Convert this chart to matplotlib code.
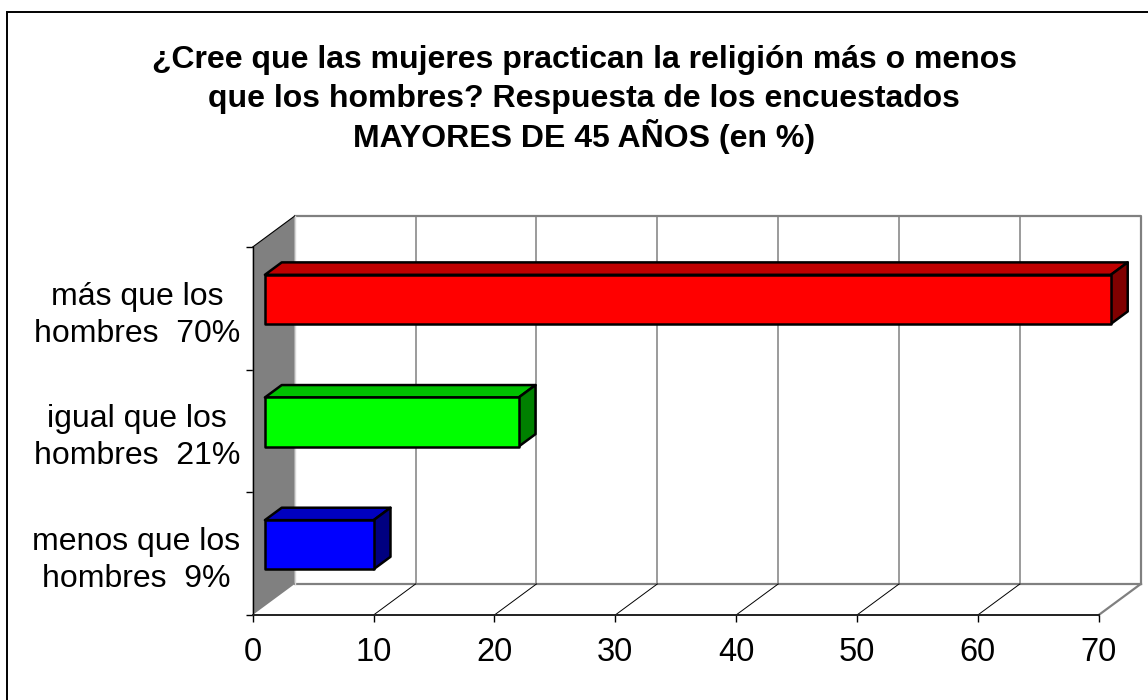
import matplotlib.pyplot as plt
from matplotlib.patches import Polygon, Rectangle

plt.rcParams['font.family'] = ['Liberation Sans', 'DejaVu Sans']

# answers, bottom to top
categories = ['menos que los\nhombres  9%',
              'igual que los\nhombres  21%',
              'más que los\nhombres  70%']
values = [9, 21, 70]
front_colors = ['#0000FF', '#00FF00', '#FF0000']
top_colors = ['#0000C0', '#00C000', '#C00000']
side_colors = ['#000080', '#008000', '#800000']

title_lines = ['¿Cree que las mujeres practican la religión más o menos',
               'que los hombres? Respuesta de los encuestados',
               'MAYORES DE 45 AÑOS (en %)']
xticks = [0, 10, 20, 30, 40, 50, 60, 70]

# pseudo 3d depth of the plot box (data units) and where the bars sit in it
DX, DY = 3.48, 0.253
BAR_FRONT, BAR_BACK = 0.29, 0.69
BAR_H = 0.4
GREY = '#808080'

fig = plt.figure(figsize=(11.48, 7.0), dpi=100)
ax = fig.add_axes([252.7 / 1148, 85 / 700, 846 / 1148, 368 / 700])
ax.set_xlim(0, 70)
ax.set_ylim(0, 3)

n = len(categories)
xmax = xticks[-1]

# back wall frame and gridlines
ax.plot([DX, xmax + DX, xmax + DX], [n + DY, n + DY, DY], color=GREY, lw=1.6,
        clip_on=False, zorder=1, solid_capstyle='projecting')
ax.plot([DX, xmax + DX], [DY, DY], color=GREY, lw=1.6, clip_on=False, zorder=1)
for t in xticks[1:-1]:
    ax.plot([t + DX, t + DX], [DY, n + DY], color=GREY, lw=1.1, clip_on=False, zorder=1)
    ax.plot([t, t + DX], [0, DY], color='black', lw=0.7, clip_on=False, zorder=1)
ax.plot([xmax, xmax + DX], [0, DY], color=GREY, lw=1.6, clip_on=False, zorder=1)

# side wall
ax.add_patch(Polygon([(0, 0), (DX, DY), (DX, n + DY), (0, n)], closed=True,
                     facecolor=GREY, edgecolor='none', clip_on=False, zorder=2))
ax.plot([0, DX], [n, n + DY], color='black', lw=0.8, clip_on=False, zorder=2)
ax.plot([DX, DX], [DY, n + DY], color='#D8D8D8', lw=1.0, clip_on=False, zorder=2)

# bars as boxes: front face, top face, right face
for i, (v, fc, tc, sc) in enumerate(zip(values, front_colors, top_colors, side_colors)):
    x0 = BAR_FRONT * DX
    y0 = i + 0.5 + BAR_FRONT * DY - BAR_H / 2
    ddx = (BAR_BACK - BAR_FRONT) * DX
    ddy = (BAR_BACK - BAR_FRONT) * DY
    front = [(x0, y0), (x0 + v, y0), (x0 + v, y0 + BAR_H), (x0, y0 + BAR_H)]
    top = [(x0, y0 + BAR_H), (x0 + v, y0 + BAR_H),
           (x0 + v + ddx, y0 + BAR_H + ddy), (x0 + ddx, y0 + BAR_H + ddy)]
    side = [(x0 + v, y0), (x0 + v + ddx, y0 + ddy),
            (x0 + v + ddx, y0 + BAR_H + ddy), (x0 + v, y0 + BAR_H)]
    for pts, c in ((top, tc), (side, sc), (front, fc)):
        ax.add_patch(Polygon(pts, closed=True, facecolor=c, edgecolor='black',
                             lw=1.8, joinstyle='round', clip_on=False, zorder=5))

# axes
for s in ('top', 'right'):
    ax.spines[s].set_visible(False)
ax.spines['left'].set_color('black')
ax.spines['left'].set_linewidth(1.0)
ax.spines['bottom'].set_color('#202020')
ax.spines['bottom'].set_linewidth(1.4)
ax.spines['left'].set_zorder(3)
ax.spines['bottom'].set_zorder(3)

ax.set_xticks(xticks)
ax.tick_params(axis='x', direction='out', length=5, width=1, labelsize=23.5,
               pad=10.5, colors='black')
ax.set_yticks(range(n + 1))
ax.set_yticklabels([])
ax.tick_params(axis='y', which='major', direction='out', length=5, width=1)
ax.set_yticks([i + 0.5 for i in range(n)], minor=True)
ax.set_yticklabels(categories, minor=True)
ax.tick_params(axis='y', which='minor', length=0, labelsize=23, pad=9)
for lab in ax.get_yticklabels(minor=True):
    lab.set_multialignment('center')
    lab.set_linespacing(1.3)

# title
for k, line in enumerate(title_lines):
    fig.text(584 / 1148, 1 - (68 + 39.5 * k) / 700, line, ha='center', va='baseline',
             fontsize=23, fontweight='bold')

# frame around the chart
fig.add_artist(Rectangle((7 / 1148, -0.1), 1.2, 1.1 - 12 / 700, transform=fig.transFigure,
                         fill=False, edgecolor='black', lw=1.4))

fig.savefig('out.png', dpi=100)
